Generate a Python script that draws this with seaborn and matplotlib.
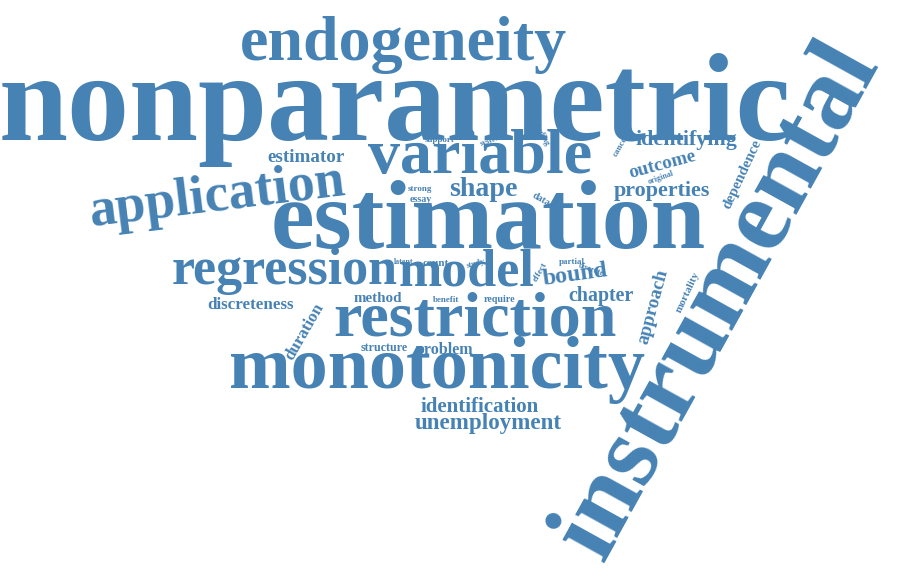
import matplotlib.pyplot as plt
import seaborn as sns

sns.set_theme(style="white")

words = ["nonparametric", "instrumental", "estimation", "monotonicity", "endogeneity",
         "variable", "restriction", "application", "regression", "model", "shape",
         "unemployment", "identification", "identifying", "properties", "estimator",
         "outcome", "dependence", "bound", "chapter", "approach", "mortality",
         "discreteness", "duration", "method", "structure", "problem", "count",
         "latent", "study", "effect", "partial", "discrete", "benefit", "require",
         "support", "system", "finding", "cancer", "original", "strong", "essay", "data"]
x_pos = [395, 718, 488, 437, 403, 480, 475, 217, 285, 467, 483, 488, 480, 686, 662, 306,
         662, 742, 575, 601, 653, 688, 250, 305, 378, 384, 445, 436, 404, 476, 540, 572,
         591, 446, 500, 440, 491, 542, 621, 661, 420, 421, 541]
y_pos = [110, 300, 224, 370, 45, 158, 320, 197, 271, 272, 190, 424, 407, 140, 191, 158,
         165, 174, 275, 296, 307, 292, 305, 332, 298, 348, 350, 264, 262, 264, 272, 262,
         270, 300, 300, 140, 140, 135, 145, 178, 189, 199, 200]
em_px = [124, 104, 98, 74, 64, 64, 64, 54, 52, 52, 28, 23, 21, 22, 22, 19,
         19, 15, 24, 20, 19, 11, 17, 17, 15, 12, 16, 11, 8, 8, 9, 9,
         8, 9, 10, 9, 8, 8, 9, 8, 9, 10, 10]
angles = [0, 61, 0, 0, 0, 0, 0, 7, 0, 0, 0, 0, 0, 0, 0, 0,
          15, 65, 8, 0, 75, 65, 0, 60, 0, 0, 0, 0, 0, 15, 60, 0,
          -20, 0, 0, 0, 20, -60, 60, 20, 0, 0, -30]

fig, ax = plt.subplots(figsize=(9, 5.86), dpi=100)
fig.subplots_adjust(0, 0, 1, 1)
ax.set_xlim(0, 900)
ax.set_ylim(586, 0)
ax.axis("off")

for w, x, y, s, a in zip(words, x_pos, y_pos, em_px, angles):
    ax.text(x, y, w, ha="center", va="center", rotation=a, rotation_mode="anchor",
            fontsize=s * 0.72, fontweight="bold", family="Liberation Serif",
            color="#4682b4")

fig.savefig("out.png")
